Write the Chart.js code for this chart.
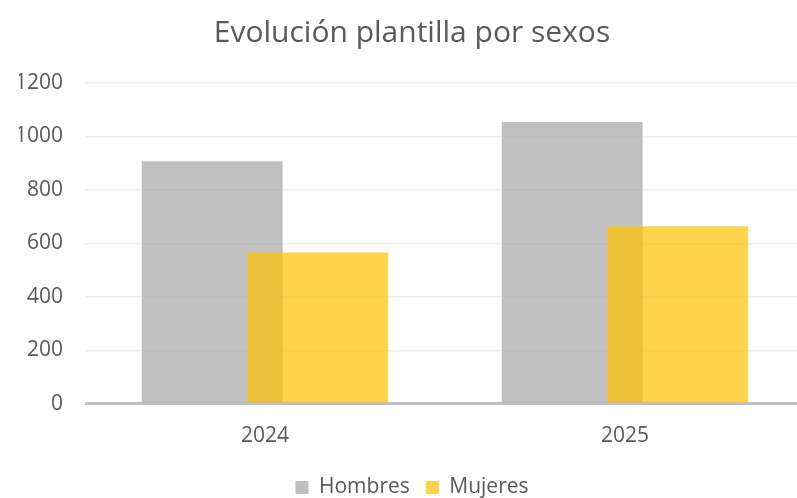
<!DOCTYPE html>
<html>
<head>
<meta charset="utf-8">
<script src="https://cdn.jsdelivr.net/npm/chart.js@4/dist/chart.umd.min.js"></script>
<style>
  html, body { margin: 0; padding: 0; background: #fff; overflow: hidden; }
  /* chart is a bit wider than the window, like the cropped original */
  #wrap { width: 824px; height: 498px; }
</style>
</head>
<body>
<div id="wrap"><canvas id="plantillaChart"></canvas></div>
<script>
  const years = ['2024', '2025'];
  const hombres = [907, 1054];
  const mujeres = [566, 664];
  const yTicks = [0, 200, 400, 600, 800, 1000, 1200];

  const textColor = '#595959';
  const fontFamily = "'Open Sans', 'Noto Sans', sans-serif";

  // Mujeres has to be painted over Hombres (Chart.js paints dataset 0 last)
  const drawOrder = {
    id: 'drawOrder',
    beforeDatasetsDraw(chart) {
      [0, 1].forEach(i => chart.getDatasetMeta(i).controller.draw());
      return false;
    }
  };

  const ctx = document.getElementById('plantillaChart').getContext('2d');

  const plantillaChart = new Chart(ctx, {
    type: 'bar',
    data: {
      labels: years,
      datasets: [
        {
          label: 'Hombres',
          data: hombres,
          backgroundColor: 'rgba(165, 165, 165, 0.7)',
          categoryPercentage: 0.586,
          barPercentage: 1.336
        },
        {
          label: 'Mujeres',
          data: mujeres,
          backgroundColor: 'rgba(255, 192, 0, 0.7)',
          categoryPercentage: 0.586,
          barPercentage: 1.336
        }
      ]
    },
    plugins: [drawOrder],
    options: {
      responsive: true,
      maintainAspectRatio: false,
      animation: false,
      layout: { padding: { left: 19, right: 19, top: 0, bottom: -10 } },
      plugins: {
        title: {
          display: true,
          text: 'Evolución plantilla por sexos',
          color: textColor,
          font: { family: fontFamily, size: 30, weight: 'normal' },
          padding: { top: 15, bottom: 32 }
        },
        legend: {
          position: 'bottom',
          labels: {
            color: textColor,
            font: { family: fontFamily, size: 21 },
            boxWidth: 13,
            boxHeight: 13,
            padding: 16
          }
        },
        tooltip: { enabled: false }
      },
      scales: {
        x: {
          grid: { display: false },
          border: { display: false },
          ticks: { color: textColor, font: { family: fontFamily, size: 21 }, padding: 12 }
        },
        y: {
          min: yTicks[0],
          max: yTicks[yTicks.length - 1],
          afterBuildTicks: axis => { axis.ticks = yTicks.map(v => ({ value: v })); },
          afterFit: axis => { axis.width = 66; },
          border: { display: false },
          grid: {
            drawTicks: false,
            color: c => c.tick.value === 0 ? '#BFBFBF' : '#EDEDED',
            lineWidth: c => c.tick.value === 0 ? 3 : 1.5
          },
          ticks: {
            color: textColor,
            font: { family: fontFamily, size: 21 },
            padding: 22,
            callback: v => String(v)
          }
        }
      }
    }
  });
</script>
</body>
</html>
